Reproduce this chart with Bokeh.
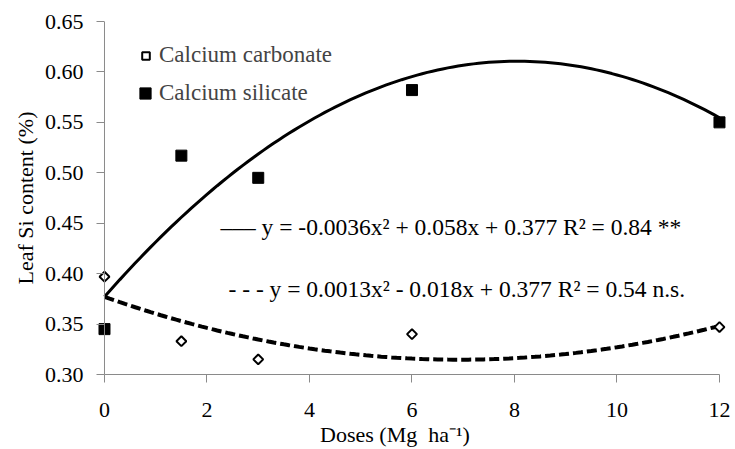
import numpy as np
from bokeh.plotting import figure
from bokeh.models import Range1d, Legend, LegendItem, FixedTicker, PrintfTickFormatter, Label, Span
from bokeh.embed import file_html
from bokeh.resources import INLINE

# ---- data ----
doses = [0, 1.5, 3, 6, 12]
carbonate = [0.397, 0.333, 0.315, 0.340, 0.347]
silicate = [0.345, 0.517, 0.495, 0.582, 0.550]

# fitted quadratic coefficients as printed on the chart (a, b, c)
silicate_coef = [-0.0036, 0.058, 0.377]
carbonate_coef = [0.0013, -0.018, 0.377]

x_ticks = [0, 2, 4, 6, 8, 10, 12]
y_ticks = [0.30, 0.35, 0.40, 0.45, 0.50, 0.55, 0.60, 0.65]

legend_labels = ["Calcium carbonate", "Calcium silicate"]
eq_silicate = "\u2013\u2013\u2013 y = -0.0036x\u00b2 + 0.058x + 0.377 R\u00b2 = 0.84 **"
eq_carbonate = "- - - y = 0.0013x\u00b2 - 0.018x + 0.377 R\u00b2 = 0.54 n.s."
x_label = "Doses (Mg\u00a0 ha\u207b\u00b9)"
y_label = "Leaf Si content (%)"

FONT = "Liberation Serif"
AXIS_GREY = "#8a8a8a"

p = figure(width=735, height=449, output_backend="svg", toolbar_location=None,
           x_range=Range1d(-0.156, 12.137), y_range=Range1d(0.30, 0.65),
           min_border_left=96, min_border_right=9, min_border_top=21, min_border_bottom=73)
p.outline_line_color = None
p.grid.visible = False
p.background_fill_color = "white"
p.border_fill_color = "white"

# vertical axis line drawn at x = 0
p.add_layout(Span(location=x_ticks[0], dimension="height", line_color=AXIS_GREY, line_width=1))

# trend curves from the printed coefficients
xs = np.linspace(0, 12, 121)
ys_sil = np.polyval(silicate_coef, xs)
ys_car = np.polyval(carbonate_coef, xs)
p.line(xs, ys_sil, line_color="black", line_width=3)
p.line(xs, ys_car, line_color="black", line_width=4, line_dash="10 4")

r_car = p.scatter(doses, carbonate, marker="square", size=7, angle=np.pi / 4,
                  fill_color="white", line_color="black", line_width=2)
r_sil = p.scatter(doses, silicate, marker="square", size=11,
                  fill_color="black", line_color="black")

for ax in (p.xaxis[0], p.yaxis[0]):
    ax.axis_line_color = AXIS_GREY
    ax.major_tick_line_color = AXIS_GREY
    ax.minor_tick_line_color = None
    ax.major_label_text_font = FONT
    ax.major_label_text_font_size = "22px"
    ax.major_label_text_color = "black"
    ax.axis_label_text_font = FONT
    ax.axis_label_text_font_size = "22px"
    ax.axis_label_text_font_style = "normal"
    ax.axis_label_text_color = "black"

p.xaxis.ticker = FixedTicker(ticks=x_ticks)
p.xaxis.bounds = (0, 12)
p.xaxis.major_tick_in = 0
p.xaxis.major_tick_out = 8
p.xaxis.major_label_standoff = 20
p.xaxis.axis_label = x_label + "\u00a0" * 6
p.xaxis.axis_label_standoff = 2

p.yaxis.ticker = FixedTicker(ticks=y_ticks)
p.yaxis.formatter = PrintfTickFormatter(format="%.2f")
p.yaxis.axis_line_color = None
p.yaxis.major_tick_out = 0
p.yaxis.major_tick_in = 8
p.yaxis.major_label_standoff = 13
p.yaxis.axis_label = y_label
p.yaxis.axis_label_standoff = 4

# equations
p.add_layout(Label(x=0, y=0.446, x_offset=116, text=eq_silicate, text_align="left", text_baseline="middle",
                   text_font=FONT, text_font_size="23.5px", text_color="black"))
p.add_layout(Label(x=0, y=0.385, x_offset=124, text=eq_carbonate, text_align="left", text_baseline="middle",
                   text_font=FONT, text_font_size="23.5px", text_color="black"))

# legends (two, so each marker keeps its own size)
def make_legend(label, renderer, glyph, standoff, loc):
    return Legend(items=[LegendItem(label=label, renderers=[renderer])], location=loc,
                  glyph_width=glyph, glyph_height=glyph, label_standoff=standoff,
                  label_text_font=FONT, label_text_font_size="23px",
                  label_text_baseline="middle", label_height=glyph,
                  padding=0, margin=0, spacing=0,
                  border_line_color=None, background_fill_alpha=0)

p.add_layout(make_legend(legend_labels[0], r_car, 19, 4, (40, 306)))
p.add_layout(make_legend(legend_labels[1], r_sil, 28, 0, (35, 267)))

open("out.html", "w").write(file_html(p, INLINE))
